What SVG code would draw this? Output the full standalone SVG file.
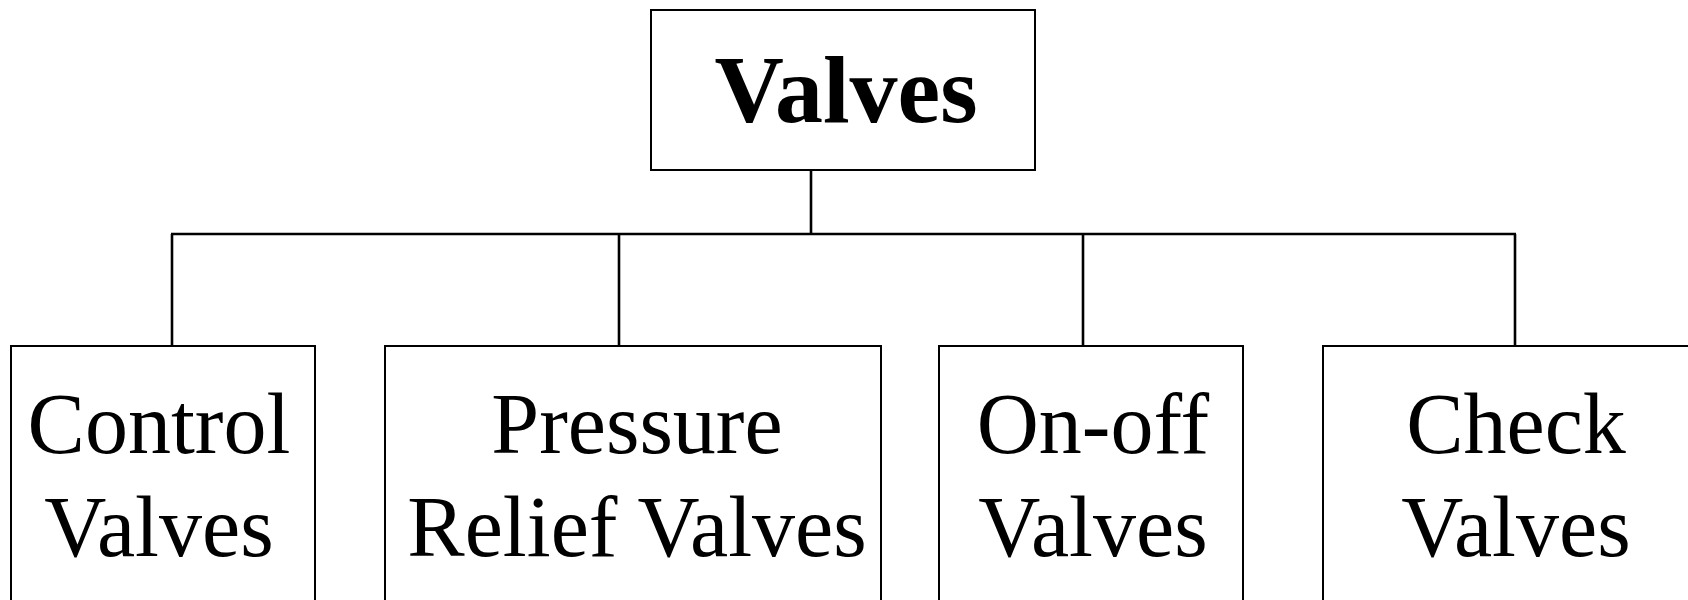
<svg xmlns="http://www.w3.org/2000/svg" width="1688" height="600" viewBox="0 0 1688 600">
<style>
.box{fill:#fff;stroke:#000;stroke-width:2}
.conn{fill:none;stroke:#000;stroke-width:2.6}
.t{font-family:"Liberation Serif","Times New Roman",serif;font-size:86px;fill:#000;text-anchor:middle}
.tb{font-family:"Liberation Serif","Times New Roman",serif;font-size:96px;font-weight:bold;fill:#000;text-anchor:middle}
</style>
<rect width="1688" height="600" fill="#fff"/>
<g id="connectors">
<line class="conn" x1="811" y1="170" x2="811" y2="234"/>
<line class="conn" x1="171" y1="234" x2="1516" y2="234"/>
<line class="conn" x1="172" y1="234" x2="172" y2="346"/>
<line class="conn" x1="619" y1="234" x2="619" y2="346"/>
<line class="conn" x1="1083" y1="234" x2="1083" y2="346"/>
<line class="conn" x1="1515" y1="234" x2="1515" y2="346"/>
</g>
<g id="valves">
<rect class="box" x="651" y="10" width="384" height="160"/>
<text class="tb" x="846" y="122">Valves</text>
</g>
<g id="control">
<rect class="box" x="11" y="346" width="304" height="270"/>
<text class="t" x="159" y="453">Control</text>
<text class="t" x="159" y="556">Valves</text>
</g>
<g id="pressure">
<rect class="box" x="385" y="346" width="496" height="270"/>
<text class="t" x="637" y="453">Pressure</text>
<text class="t" x="637" y="556">Relief Valves</text>
</g>
<g id="onoff">
<rect class="box" x="939" y="346" width="304" height="270"/>
<text class="t" x="1093" y="453">On-off</text>
<text class="t" x="1093" y="556">Valves</text>
</g>
<g id="check">
<rect class="box" x="1323" y="346" width="400" height="270"/>
<text class="t" x="1516" y="453">Check</text>
<text class="t" x="1516" y="556">Valves</text>
</g>
</svg>
